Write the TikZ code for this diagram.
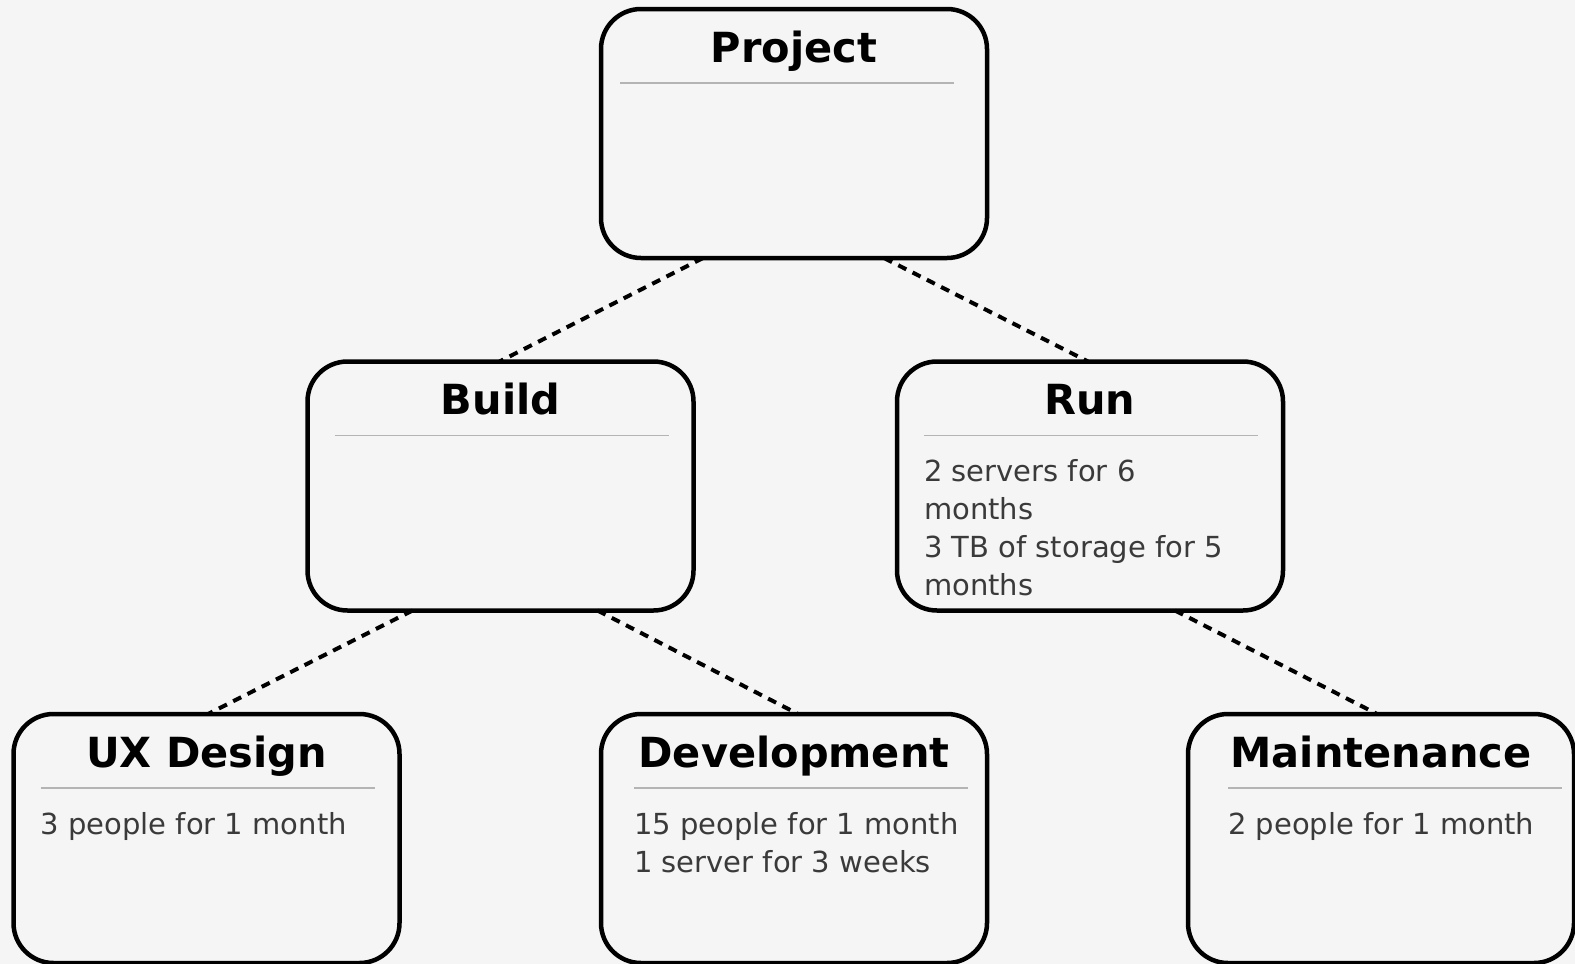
\documentclass[tikz,border=0pt]{standalone}
\usepackage{fontspec}
\setmainfont{DejaVu Sans}
\definecolor{bg}{HTML}{F5F5F5}
\definecolor{sepgray}{HTML}{B4B4B4}
\definecolor{bodygray}{HTML}{3A3A3A}
\tikzset{
  box/.style={draw=black, line width=4.5pt, rounded corners=40pt, fill=bg,
    minimum width=386pt, minimum height=249pt, inner sep=0pt, outer sep=0pt},
  ttl/.style={anchor=base, inner sep=0pt, font=\fontsize{41.5}{50}\selectfont\bfseries, text=black},
  sepline/.style={draw=sepgray, line width=1.5pt},
  bodytxt/.style={anchor=base west, inner sep=0pt, align=left, text=bodygray,
    font=\fontsize{29}{38}\selectfont},
  conn/.style={draw=black, line width=4pt, dash pattern=on 9pt off 7pt}
}
\begin{document}
\begin{tikzpicture}[x=1pt,y=-1pt]
\useasboundingbox (0,0) rectangle (1575,964);
\fill[bg] (0,0) rectangle (1575,964);

% boxes
\node[box] (proj)  at (794,133.5) {};
\node[box] (build) at (500.5,486) {};
\node[box] (run)   at (1090,486) {};
\node[box] (ux)    at (206.5,838.5) {};
\node[box] (dev)   at (794,838.5) {};
\node[box] (maint) at (1381,838.5) {};

% titles
\node[ttl] (projT)  at ([yshift=-53pt]proj.north)  {Project};
\node[ttl] (buildT) at ([yshift=-53pt]build.north) {Build};
\node[ttl] (runT)   at ([yshift=-53pt]run.north)   {Run};
\node[ttl] (uxT)    at ([yshift=-53pt]ux.north)    {UX Design};
\node[ttl] (devT)   at ([yshift=-53pt]dev.north)   {Development};
\node[ttl] (maintT) at ([yshift=-53pt]maint.north) {Maintenance};

% separators
\draw[sepline] ([xshift=-174pt,yshift=-74pt]proj.north) -- ++(334,0);
\draw[sepline] ([xshift=-166pt,yshift=-74pt]build.north) -- ++(334,0);
\draw[sepline] ([xshift=-166pt,yshift=-74pt]run.north) -- ++(334,0);
\draw[sepline] ([xshift=-166pt,yshift=-74pt]ux.north) -- ++(334,0);
\draw[sepline] ([xshift=-160pt,yshift=-74pt]dev.north) -- ++(334,0);
\draw[sepline] ([xshift=-153pt,yshift=-74pt]maint.north) -- ++(334,0);

% body texts (anchor = baseline of the last line)
\node[bodytxt] (runB) at ([xshift=-166pt,yshift=-234pt]run.north)
  {2 servers for 6\\months\\3 TB of storage for 5\\months};
\node[bodytxt] (uxB) at ([xshift=-166pt,yshift=-120pt]ux.north)
  {3 people for 1 month};
\node[bodytxt] (devB) at ([xshift=-160pt,yshift=-158pt]dev.north)
  {15 people for 1 month\\1 server for 3 weeks};
\node[bodytxt] (maintB) at ([xshift=-153pt,yshift=-120pt]maint.north)
  {2 people for 1 month};

% connectors
\draw[conn] ([xshift=-91pt]proj.south) -- ([xshift=-1pt]build.north);
\draw[conn] ([xshift=90pt]proj.south) -- ([xshift=-2pt]run.north);
\draw[conn] ([xshift=-88pt]build.south) -- ([xshift=1.5pt]ux.north);
\draw[conn] ([xshift=97pt]build.south) -- ([xshift=4pt]dev.north);
\draw[conn] ([xshift=85pt]run.south) -- ([xshift=-4pt]maint.north);
\end{tikzpicture}
\end{document}
